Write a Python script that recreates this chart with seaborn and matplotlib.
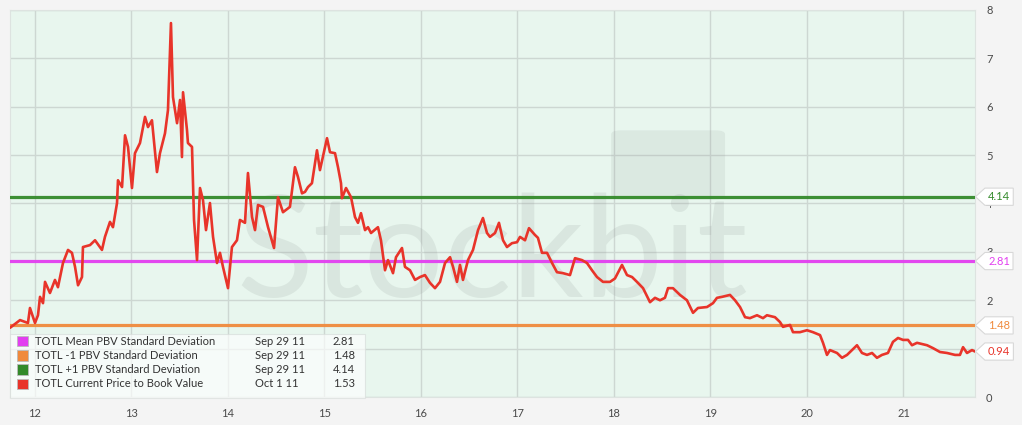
import matplotlib
matplotlib.use("Agg")
import matplotlib.pyplot as plt
import matplotlib.transforms as mtransforms
from matplotlib.path import Path
from matplotlib.patches import Rectangle, FancyBboxPatch
import seaborn as sns
import pandas as pd

# ---------------- data ----------------
years = [11.741, 11.845, 11.927, 11.948, 12.000, 12.031, 12.052, 12.083, 12.104, 12.155,
         12.207, 12.238, 12.290, 12.342, 12.383, 12.415, 12.446, 12.487, 12.497, 12.570,
         12.622, 12.694, 12.725, 12.777, 12.808, 12.850, 12.860, 12.902, 12.933, 12.964,
         13.005, 13.036, 13.088, 13.140, 13.171, 13.212, 13.264, 13.295, 13.347, 13.378,
         13.409, 13.430, 13.472, 13.503, 13.523, 13.534, 13.575, 13.585, 13.627, 13.648,
         13.679, 13.710, 13.741, 13.772, 13.813, 13.845, 13.886, 13.917, 13.948, 14.000,
         14.041, 14.093, 14.124, 14.176, 14.207, 14.249, 14.280, 14.311, 14.363, 14.415,
         14.477, 14.518, 14.570, 14.642, 14.694, 14.725, 14.767, 14.798, 14.829, 14.870,
         14.922, 14.953, 15.026, 15.057, 15.109, 15.140, 15.171, 15.181, 15.223, 15.275,
         15.316, 15.347, 15.378, 15.420, 15.451, 15.482, 15.554, 15.585, 15.627, 15.658,
         15.710, 15.741, 15.803, 15.834, 15.886, 15.938, 15.990, 16.041, 16.093, 16.145,
         16.197, 16.249, 16.301, 16.332, 16.373, 16.404, 16.435, 16.487, 16.539, 16.591,
         16.642, 16.684, 16.715, 16.767, 16.808, 16.850, 16.891, 16.943, 16.995, 17.026,
         17.078, 17.119, 17.181, 17.212, 17.254, 17.306, 17.358, 17.409, 17.472, 17.544,
         17.596, 17.668, 17.720, 17.772, 17.824, 17.886, 17.959, 18.010, 18.083, 18.135,
         18.187, 18.238, 18.301, 18.373, 18.425, 18.477, 18.528, 18.560, 18.611, 18.684,
         18.756, 18.819, 18.870, 18.964, 19.026, 19.067, 19.119, 19.202, 19.254, 19.306,
         19.358, 19.409, 19.482, 19.544, 19.585, 19.668, 19.720, 19.751, 19.824, 19.855,
         19.927, 20.000, 20.062, 20.135, 20.166, 20.207, 20.238, 20.311, 20.363, 20.415,
         20.446, 20.518, 20.570, 20.622, 20.674, 20.725, 20.777, 20.839, 20.891, 20.943,
         20.995, 21.047, 21.088, 21.140, 21.244, 21.306, 21.378, 21.451, 21.534, 21.585,
         21.617, 21.658, 21.710, 21.741]
pbv = [1.43, 1.59, 1.53, 1.84, 1.53, 1.69, 2.07, 1.94, 2.38, 2.15,
       2.42, 2.27, 2.77, 3.04, 2.98, 2.69, 2.31, 2.48, 3.10, 3.14,
       3.24, 3.04, 3.31, 3.62, 3.51, 4.01, 4.48, 4.34, 5.41, 5.17,
       4.32, 5.04, 5.25, 5.79, 5.58, 5.72, 4.65, 5.04, 5.45, 5.93,
       7.73, 6.20, 5.66, 6.14, 4.96, 6.30, 5.52, 5.25, 5.17, 3.66,
       2.83, 4.32, 4.07, 3.45, 4.01, 3.31, 2.77, 2.98, 2.69, 2.25,
       3.10, 3.24, 3.66, 3.60, 4.63, 3.72, 3.45, 3.97, 3.93, 3.51,
       3.08, 4.13, 3.82, 3.93, 4.75, 4.55, 4.21, 4.24, 4.34, 4.42,
       5.10, 4.69, 5.35, 5.06, 5.04, 4.75, 4.42, 4.11, 4.32, 4.13,
       3.72, 3.60, 3.80, 3.45, 3.51, 3.39, 3.51, 3.24, 2.62, 2.83,
       2.56, 2.89, 3.08, 2.69, 2.62, 2.42, 2.48, 2.52, 2.36, 2.25,
       2.38, 2.77, 2.89, 2.69, 2.38, 2.73, 2.42, 2.83, 3.04, 3.45,
       3.70, 3.39, 3.31, 3.39, 3.60, 3.24, 3.10, 3.18, 3.20, 3.31,
       3.24, 3.49, 3.35, 3.29, 2.98, 2.98, 2.77, 2.58, 2.56, 2.52,
       2.87, 2.83, 2.77, 2.62, 2.48, 2.38, 2.38, 2.45, 2.73, 2.52,
       2.48, 2.38, 2.25, 1.96, 2.05, 2.00, 2.05, 2.25, 2.25, 2.11,
       2.00, 1.74, 1.84, 1.86, 1.94, 2.05, 2.07, 2.11, 2.00, 1.86,
       1.65, 1.63, 1.69, 1.63, 1.69, 1.65, 1.55, 1.45, 1.49, 1.34,
       1.34, 1.38, 1.34, 1.28, 1.12, 0.87, 0.97, 0.91, 0.81, 0.87,
       0.93, 1.07, 0.91, 0.87, 0.91, 0.81, 0.87, 0.91, 1.14, 1.22,
       1.18, 1.18, 1.07, 1.12, 1.07, 1.01, 0.93, 0.91, 0.87, 0.87,
       1.03, 0.91, 0.97, 0.94]

mean_pbv = 2.81
minus1_sd = 1.48
plus1_sd = 4.14

x_ticks = [12, 13, 14, 15, 16, 17, 18, 19, 20, 21]
x_tick_labels = ["12", "13", "14", "15", "16", "17", "18", "19", "20", "21"]
y_ticks = [0, 1, 2, 3, 4, 5, 6, 7, 8]
y_tick_labels = ["0", "", "2", "3", "4", "5", "6", "7", "8"]

legend_names = ["TOTL Mean PBV Standard Deviation", "TOTL -1 PBV Standard Deviation",
                "TOTL +1 PBV Standard Deviation", "TOTL Current Price to Book Value"]
legend_dates = ["Sep 29 11", "Sep 29 11", "Sep 29 11", "Oct 1 11"]
legend_values = ["2.81", "1.48", "4.14", "1.53"]

# ---------------- style ----------------
C_MEAN = "#e23ff0"
C_MINUS = "#f08a3c"
C_PLUS = "#338a2a"
C_PBV = "#e8342a"
legend_colors = [C_MEAN, C_MINUS, C_PLUS, C_PBV]

sns.set_theme(style="white")
plt.rcParams["font.family"] = ["Lato", "DejaVu Sans"]

fig = plt.figure(figsize=(10.22, 4.25), dpi=100, facecolor="#f4f4f4")
ax = fig.add_axes([10 / 1022, 1 - 397 / 425, 965 / 1022, 387 / 425])
ax.set_facecolor("#e8f6ee")

df = pd.DataFrame({"year": years, "pbv": pbv})
sns.lineplot(data=df, x="year", y="pbv", color=C_PBV, lw=1.9, ax=ax, zorder=4,
             estimator=None)

for val, col in [(plus1_sd, C_PLUS), (mean_pbv, C_MEAN), (minus1_sd, C_MINUS)]:
    ax.axhline(val, color=col, lw=2.3, zorder=3, alpha=0.95)

ax.set_xlim(11.741, 21.741)
ax.set_ylim(0, 8)
ax.set_xticks(x_ticks)
ax.set_xticklabels(x_tick_labels)
ax.set_yticks(y_ticks)
ax.set_yticklabels(y_tick_labels)
ax.yaxis.tick_right()
ax.grid(True, color="#cdd7d2", lw=1.0, zorder=0)
ax.set_axisbelow(True)
ax.tick_params(axis="both", length=0, labelsize=8, labelcolor="#4a4a4a")
ax.tick_params(axis="x", pad=8)
ax.tick_params(axis="y", pad=8)
for lab in ax.get_yticklabels():
    lab.set_horizontalalignment("left")
ax.set_xlabel("")
ax.set_ylabel("")
for s in ax.spines.values():
    s.set_color("#dde3e0")
    s.set_linewidth(0.8)

# watermark
ax.text(0.5, 0.258, "Stockbit", transform=ax.transAxes, ha="center", va="baseline",
        fontsize=102, color="#8f9b96", alpha=0.17, zorder=1, fontweight="normal",
        family=["Lato", "DejaVu Sans"])
logo = FancyBboxPatch((0.627, 0.515), 0.11, 0.17, boxstyle="round,pad=0.004,rounding_size=0.01",
                      transform=ax.transAxes, fc="#8f9b96", ec="none", alpha=0.14, zorder=1)
ax.add_patch(logo)


# callout tags on the right
def tag_box(x0, y0, width, height, mutation_size):
    pad = mutation_size * 0.28
    x0 -= pad
    y0 -= pad
    x1 = x0 + width + 2 * pad
    y1 = y0 + height + 2 * pad
    h = y1 - y0
    tip = x0 - h * 0.55
    ym = (y0 + y1) / 2
    verts = [(tip, ym), (x0, y1), (x1, y1), (x1, y0), (x0, y0), (tip, ym)]
    return Path(verts, closed=True)


trans = mtransforms.blended_transform_factory(ax.transAxes, ax.transData)
for val, txt, col in [(plus1_sd, f"{plus1_sd:.2f}", C_PLUS),
                      (mean_pbv, f"{mean_pbv:.2f}", C_MEAN),
                      (minus1_sd, f"{minus1_sd:.2f}", C_MINUS),
                      (pbv[-1], f"{pbv[-1]:.2f}", C_PBV)]:
    ax.text(1.0135, val, txt, transform=trans, ha="left", va="center", fontsize=8,
            color=col, clip_on=False, zorder=10,
            bbox=dict(boxstyle=tag_box, fc="white", ec="#d8d8d8", lw=0.8))

# legend table
ax.add_patch(Rectangle((0.0, -0.003), 0.368, 0.166, transform=ax.transAxes,
                       fc="white", ec="#d6dcd9", lw=0.8, alpha=0.65, zorder=6,
                       clip_on=False))
row_y = [0.1447, 0.1085, 0.0698, 0.0336]
for i in range(4):
    y = row_y[i]
    ax.add_patch(Rectangle((0.0073, y - 0.0142), 0.0114, 0.0284, transform=ax.transAxes,
                           fc=legend_colors[i], ec="#bbbbbb", lw=0.6, zorder=7,
                           clip_on=False))
    ax.text(0.0259, y, legend_names[i], transform=ax.transAxes, va="center", ha="left",
            fontsize=8, color="#333333", zorder=7)
    ax.text(0.2539, y, legend_dates[i], transform=ax.transAxes, va="center", ha="left",
            fontsize=8, color="#333333", zorder=7)
    ax.text(0.3347, y, legend_values[i], transform=ax.transAxes, va="center", ha="left",
            fontsize=8, color="#333333", zorder=7)

fig.savefig("out.png", dpi=100, facecolor=fig.get_facecolor())
